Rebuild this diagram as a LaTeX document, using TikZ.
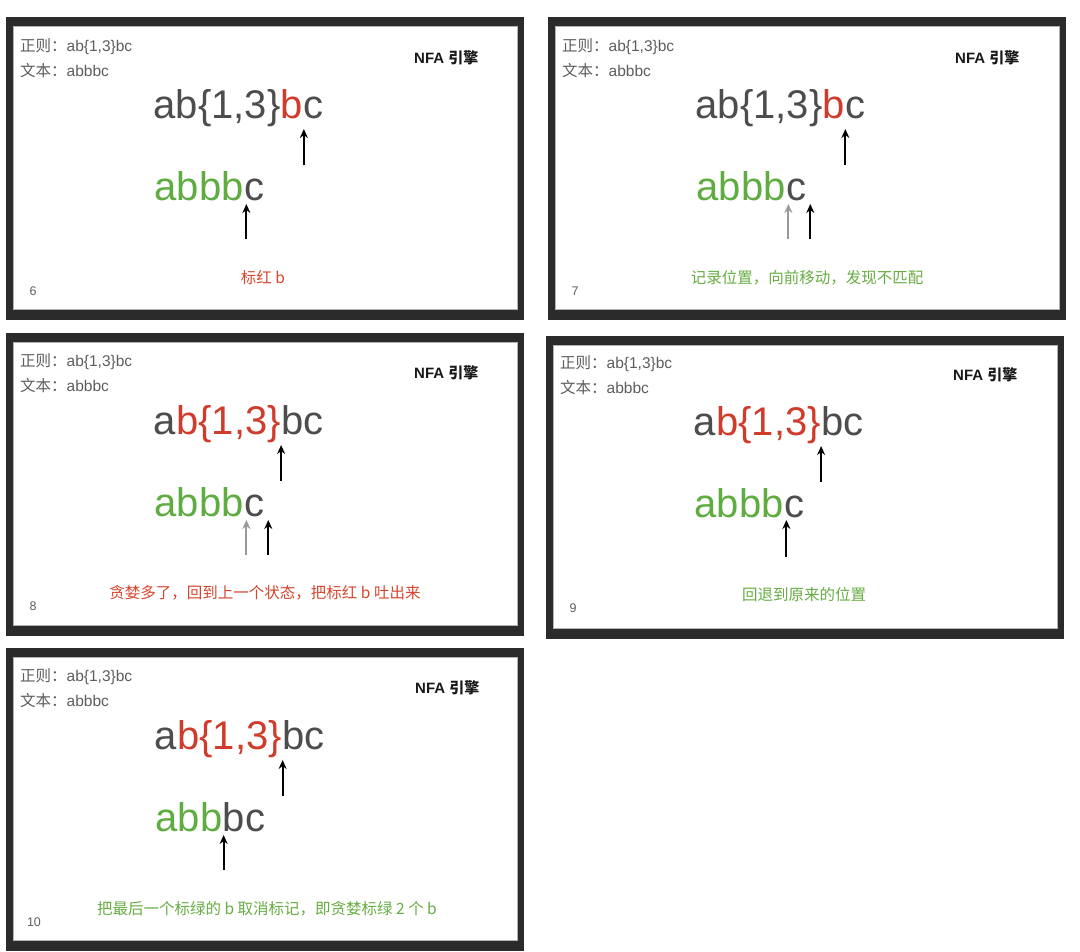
\documentclass[tikz,border=0pt]{standalone}
\usepackage{fontspec}
\setmainfont{Liberation Sans}
\newfontfamily\cjk{Noto Sans CJK SC}
\usetikzlibrary{calc,arrows.meta}
\definecolor{framec}{HTML}{2B2B2B}
\definecolor{txtgray}{HTML}{4D4D4D}
\definecolor{hdrgray}{HTML}{5E5E5E}
\definecolor{mred}{HTML}{D03C2B}
\definecolor{mgreen}{HTML}{5FAD41}
\definecolor{cred}{HTML}{D6462F}
\definecolor{cgreen}{HTML}{67AD43}
\tikzset{
  big/.style={inner sep=0pt, anchor=base west, font=\fontsize{40bp}{48bp}\selectfont},
  hdr/.style={inner sep=0pt, anchor=west, text=hdrgray, font=\fontsize{15.5bp}{18bp}\selectfont},
  eng/.style={inner sep=0pt, anchor=west, text=black!90, font=\fontsize{15bp}{18bp}\selectfont\bfseries},
  captext/.style={inner sep=0pt, font=\fontsize{15.5bp}{18bp}\selectfont\cjk},
  num/.style={inner sep=0pt, text=hdrgray, font=\fontsize{12.5bp}{14bp}\selectfont},
  ptr/.style={-{Stealth[length=9bp,width=8bp]}, line width=1.9bp, draw=black},
  ptrg/.style={ptr, draw=black!40},
  outerframe/.style={fill=framec},
  innerframe/.style={fill=white, draw=black!30, line width=0.6bp}
}
\newcommand\panelbox{%
  \path[outerframe] (0,0) rectangle (518,303);
  \path[innerframe] (7,9) rectangle (511,292);
}
\begin{document}
\begin{tikzpicture}[x=1bp,y=-1bp]
\useasboundingbox (0,0) rectangle (1080,952);
\fill[white] (0,0) rectangle (1080,952);

% ---------------- Panel 6
\begin{scope}[shift={(6,17)}]
  \panelbox
  \node[hdr] (p1h1) at (14,30) {{\cjk 正则：}ab\{1,3\}bc};
  \node[hdr] (p1h2) at (14,54) {{\cjk 文本：}abbbc};
  \node[eng] (p1e) at (408,41) {NFA {\cjk 引擎}};
  \node[big, text=txtgray] (p1r1) at (147.5,101) {ab\{1,3\}};
  \node[big, text=mred] (p1r2) at (p1r1.base east) {b};
  \node[big, text=txtgray] (p1r3) at (p1r2.base east) {c};
  \node[big, text=mgreen] (p1t1) at (148.5,183) {abbb};
  \node[big, text=txtgray] (p1t2) at (p1t1.base east) {c};
  \coordinate (p1a1s) at ($(p1r2.base east)+(0.5,47)$);
  \coordinate (p1a1e) at ($(p1r2.base east)+(0.5,11)$);
  \draw[ptr] (p1a1s) -- (p1a1e);
  \coordinate (p1a2s) at ($(p1t2.base west)+(2.5,39)$);
  \coordinate (p1a2e) at ($(p1t2.base west)+(2.5,4)$);
  \draw[ptr] (p1a2s) -- (p1a2e);
  \node[captext, text=cred] (p1c) at (257,261) {标红 b};
  \node[num] (p1n) at (27,274) {6};
\end{scope}

% ---------------- Panel 7
\begin{scope}[shift={(548,17)}]
  \panelbox
  \node[hdr] (p2h1) at (14,30) {{\cjk 正则：}ab\{1,3\}bc};
  \node[hdr] (p2h2) at (14,54) {{\cjk 文本：}abbbc};
  \node[eng] (p2e) at (407,41) {NFA {\cjk 引擎}};
  \node[big, text=txtgray] (p2r1) at (147.5,101) {ab\{1,3\}};
  \node[big, text=mred] (p2r2) at (p2r1.base east) {b};
  \node[big, text=txtgray] (p2r3) at (p2r2.base east) {c};
  \node[big, text=mgreen] (p2t1) at (148.5,183) {abbb};
  \node[big, text=txtgray] (p2t2) at (p2t1.base east) {c};
  \coordinate (p2a1s) at ($(p2r2.base east)+(0,47)$);
  \coordinate (p2a1e) at ($(p2r2.base east)+(0,11)$);
  \draw[ptr] (p2a1s) -- (p2a1e);
  \coordinate (p2a2s) at ($(p2t2.base west)+(2.5,39)$);
  \coordinate (p2a2e) at ($(p2t2.base west)+(2.5,4)$);
  \draw[ptrg] (p2a2s) -- (p2a2e);
  \coordinate (p2a3s) at ($(p2t2.base east)+(4,39)$);
  \coordinate (p2a3e) at ($(p2t2.base east)+(4,4)$);
  \draw[ptr] (p2a3s) -- (p2a3e);
  \node[captext, text=cgreen] (p2c) at (259,261) {记录位置，向前移动，发现不匹配};
  \node[num] (p2n) at (27,274) {7};
\end{scope}

% ---------------- Panel 8
\begin{scope}[shift={(6,333)}]
  \panelbox
  \node[hdr] (p3h1) at (14,29) {{\cjk 正则：}ab\{1,3\}bc};
  \node[hdr] (p3h2) at (14,53) {{\cjk 文本：}abbbc};
  \node[eng] (p3e) at (408,40) {NFA {\cjk 引擎}};
  \node[big, text=txtgray] (p3r1) at (147.5,101) {a};
  \node[big, text=mred] (p3r2) at (p3r1.base east) {b\{1,3\}};
  \node[big, text=txtgray] (p3r3) at (p3r2.base east) {bc};
  \node[big, text=mgreen] (p3t1) at (148.5,183) {abbb};
  \node[big, text=txtgray] (p3t2) at (p3t1.base east) {c};
  \coordinate (p3a1s) at ($(p3r2.base east)+(0,47)$);
  \coordinate (p3a1e) at ($(p3r2.base east)+(0,11)$);
  \draw[ptr] (p3a1s) -- (p3a1e);
  \coordinate (p3a2s) at ($(p3t2.base west)+(2.5,39)$);
  \coordinate (p3a2e) at ($(p3t2.base west)+(2.5,4)$);
  \draw[ptrg] (p3a2s) -- (p3a2e);
  \coordinate (p3a3s) at ($(p3t2.base east)+(4,39)$);
  \coordinate (p3a3e) at ($(p3t2.base east)+(4,4)$);
  \draw[ptr] (p3a3s) -- (p3a3e);
  \node[captext, text=cred] (p3c) at (259,260) {贪婪多了，回到上一个状态，把标红 b 吐出来};
  \node[num] (p3n) at (27,273) {8};
\end{scope}

% ---------------- Panel 9
\begin{scope}[shift={(546,336)}]
  \panelbox
  \node[hdr] (p4h1) at (14,28) {{\cjk 正则：}ab\{1,3\}bc};
  \node[hdr] (p4h2) at (14,52) {{\cjk 文本：}abbbc};
  \node[eng] (p4e) at (407,39) {NFA {\cjk 引擎}};
  \node[big, text=txtgray] (p4r1) at (147.5,99) {a};
  \node[big, text=mred] (p4r2) at (p4r1.base east) {b\{1,3\}};
  \node[big, text=txtgray] (p4r3) at (p4r2.base east) {bc};
  \node[big, text=mgreen] (p4t1) at (148.5,181) {abbb};
  \node[big, text=txtgray] (p4t2) at (p4t1.base east) {c};
  \coordinate (p4a1s) at ($(p4r2.base east)+(0,47)$);
  \coordinate (p4a1e) at ($(p4r2.base east)+(0,11)$);
  \draw[ptr] (p4a1s) -- (p4a1e);
  \coordinate (p4a2s) at ($(p4t2.base west)+(2.5,40)$);
  \coordinate (p4a2e) at ($(p4t2.base west)+(2.5,3)$);
  \draw[ptr] (p4a2s) -- (p4a2e);
  \node[captext, text=cgreen] (p4c) at (258,259) {回退到原来的位置};
  \node[num] (p4n) at (27,272) {9};
\end{scope}

% ---------------- Panel 10
\begin{scope}[shift={(6,648)}]
  \panelbox
  \node[hdr] (p5h1) at (14,29) {{\cjk 正则：}ab\{1,3\}bc};
  \node[hdr] (p5h2) at (14,53) {{\cjk 文本：}abbbc};
  \node[eng] (p5e) at (409,40) {NFA {\cjk 引擎}};
  \node[big, text=txtgray] (p5r1) at (148.5,101) {a};
  \node[big, text=mred] (p5r2) at (p5r1.base east) {b\{1,3\}};
  \node[big, text=txtgray] (p5r3) at (p5r2.base east) {bc};
  \node[big, text=mgreen] (p5t1) at (149.5,183) {abb};
  \node[big, text=txtgray] (p5t2) at (p5t1.base east) {bc};
  \coordinate (p5a1s) at ($(p5r2.base east)+(0.5,47)$);
  \coordinate (p5a1e) at ($(p5r2.base east)+(0.5,11)$);
  \draw[ptr] (p5a1s) -- (p5a1e);
  \coordinate (p5a2s) at ($(p5t2.base west)+(1,39)$);
  \coordinate (p5a2e) at ($(p5t2.base west)+(1,4)$);
  \draw[ptr] (p5a2s) -- (p5a2e);
  \node[captext, text=cgreen] (p5c) at (261,261) {把最后一个标绿的 b 取消标记，即贪婪标绿 2 个 b};
  \node[num] (p5n) at (28,274) {10};
\end{scope}
\end{tikzpicture}
\end{document}
